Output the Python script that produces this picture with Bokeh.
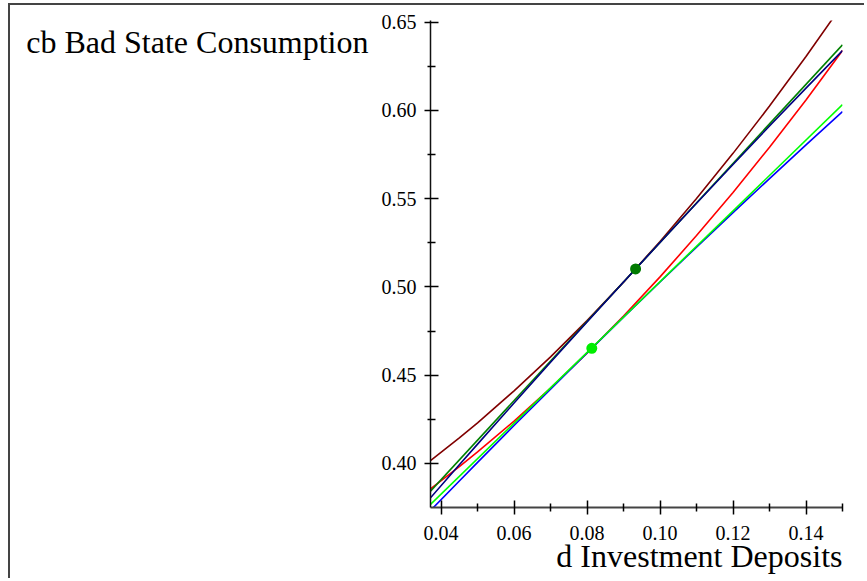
from bokeh.plotting import figure
from bokeh.models import Range1d, FixedTicker, PrintfTickFormatter, Title
from bokeh.embed import file_html
from bokeh.resources import INLINE

# ---- data ----
d_curve = [0.0371, 0.045, 0.05, 0.06, 0.07, 0.08, 0.09, 0.10, 0.11, 0.12, 0.13, 0.14, 0.15]
brown_cb = [0.4016, 0.4145, 0.4230, 0.4411, 0.4604, 0.4809, 0.5027, 0.5258, 0.5501, 0.5757, 0.6025, 0.6306, 0.6600]
navy_cb = [0.3805, 0.3992, 0.4109, 0.4342, 0.4573, 0.4801, 0.5028, 0.5252, 0.5474, 0.5694, 0.5912, 0.6127, 0.6340]
red_cb = [0.3856, 0.3982, 0.4065, 0.4240, 0.4427, 0.4625, 0.4835, 0.5057, 0.5291, 0.5535, 0.5792, 0.6060, 0.6340]
blue_cb = [0.3733, 0.3900, 0.4006, 0.4215, 0.4421, 0.4626, 0.4829, 0.5028, 0.5226, 0.5421, 0.5614, 0.5805, 0.5994]

d_tangent = [0.0371, 0.15]
green_cb = [0.3843, 0.6372]
lime_cb = [0.3768, 0.6033]

dot_d = [0.0933, 0.0813]
dot_cb = [0.5102, 0.4652]
dot_colors = ["#007a00", "#00ee00"]

x_major = [0.04, 0.06, 0.08, 0.10, 0.12, 0.14]
x_minor = [0.05, 0.07, 0.09, 0.11, 0.13, 0.15]
y_major = [0.40, 0.45, 0.50, 0.55, 0.60, 0.65]
y_minor = [0.425, 0.475, 0.525, 0.575, 0.625]

x_title = "d Investment Deposits"
y_title = "cb Bad State Consumption"

SERIF = "Liberation Serif"

p = figure(width=856, height=575, output_backend="svg", toolbar_location=None,
           x_range=Range1d(0.0371, 0.1500), y_range=Range1d(0.375, 0.651),
           min_border_left=420, min_border_right=24, min_border_top=15, min_border_bottom=73)
p.outline_line_color = None
p.xgrid.visible = False
p.ygrid.visible = False
p.background_fill_color = "white"
p.border_fill_color = "white"
p.styles = {"border-top": "2px solid #444", "border-left": "2px solid #444",
            "margin-left": "8px", "margin-top": "3px"}

for ax, maj, mnr in ((p.xaxis[0], x_major, x_minor), (p.yaxis[0], y_major, y_minor)):
    ax.ticker = FixedTicker(ticks=maj, minor_ticks=mnr)
    ax.formatter = PrintfTickFormatter(format="%.2f")
    ax.major_label_text_font = SERIF
    ax.major_label_text_font_size = "20px"
    ax.major_label_text_color = "black"
    ax.major_tick_line_color = "black"
    ax.minor_tick_line_color = "black"
    ax.major_tick_line_width = 1.5
    ax.minor_tick_line_width = 1.5

xa = p.xaxis[0]
ya = p.yaxis[0]
xa.axis_line_color = "#444"
xa.axis_line_width = 2
xa.major_tick_in = 7
xa.major_tick_out = 7
xa.minor_tick_in = 4
xa.minor_tick_out = 4
xa.major_label_standoff = 11

ya.axis_line_color = "#111"
ya.axis_line_width = 1.5
ya.major_tick_in = 8
ya.major_tick_out = 6
ya.minor_tick_in = 5
ya.minor_tick_out = 3
ya.major_label_standoff = 8

# y title: horizontal axis label at the top end of the y axis
ya.axis_label = "\n" + y_title
ya.axis_label_text_font = SERIF
ya.axis_label_text_font_size = "32px"
ya.axis_label_text_font_style = "normal"
ya.axis_label_text_color = "black"
ya.axis_label_standoff = 10
yprops = ya.properties()
if "axis_label_align" in yprops:
    ya.axis_label_align = "end"
if "axis_label_orientation" in yprops:
    ya.axis_label_orientation = "horizontal"

# x title: right-aligned under the x axis
p.add_layout(Title(text=x_title, align="right", text_font=SERIF, text_font_size="32px",
                   text_font_style="normal", text_color="black", standoff=-14), "below")

lw = 1.6
p.line(d_curve, brown_cb, line_color="#800000", line_width=lw)
p.line(d_curve, red_cb, line_color="#ff0000", line_width=lw)
p.line(d_curve, blue_cb, line_color="#0000ff", line_width=lw)
p.line(d_tangent, lime_cb, line_color="#00ff00", line_width=lw)
p.line(d_tangent, green_cb, line_color="#008000", line_width=lw)
p.line(d_curve, navy_cb, line_color="#000080", line_width=lw)

p.scatter(dot_d, dot_cb, size=11, fill_color=dot_colors, line_color=None)

open("out.html", "w").write(file_html(p, INLINE))
